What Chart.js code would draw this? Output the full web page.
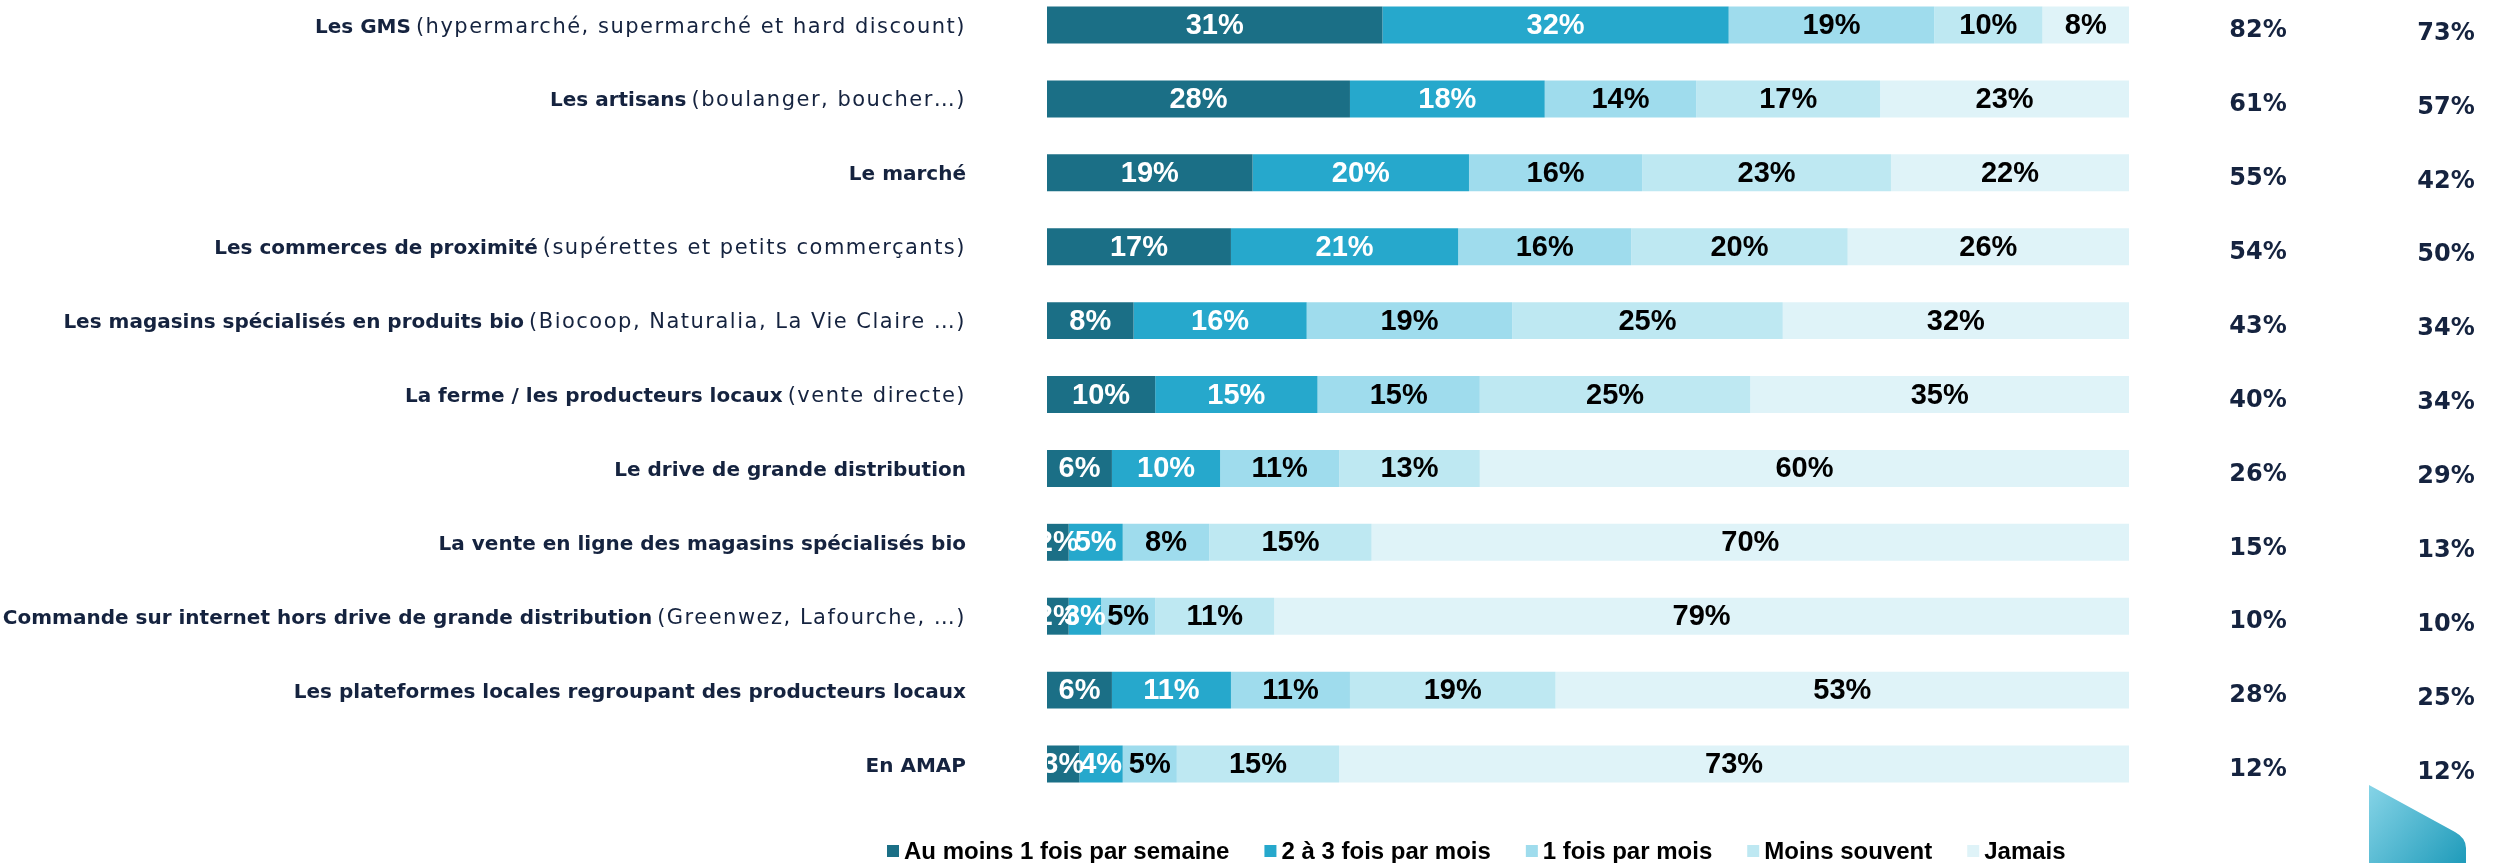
<!DOCTYPE html>
<html>
<head>
<meta charset="utf-8">
<script src="https://cdn.jsdelivr.net/npm/chart.js@4.4.1/dist/chart.umd.min.js"></script>
<style>
  html, body { margin: 0; padding: 0; background: #ffffff; }
  #wrap { width: 2496px; height: 863px; }
</style>
</head>
<body>
<div id="wrap"><canvas id="shopChart" width="2496" height="863"></canvas></div>
<script>
// row labels: bold part + detail in brackets
const mainLabels = [
    'Les GMS',
    'Les artisans',
    'Le marché',
    'Les commerces de proximité',
    'Les magasins spécialisés en produits bio',
    'La ferme / les producteurs locaux',
    'Le drive de grande distribution',
    'La vente en ligne des magasins spécialisés bio',
    'Commande sur internet hors drive de grande distribution',
    'Les plateformes locales regroupant des producteurs locaux',
    'En AMAP'
];
const detailLabels = [
    '(hypermarché, supermarché et hard discount)',
    '(boulanger, boucher…)',
    '',
    '(supérettes et petits commerçants)',
    '(Biocoop, Naturalia, La Vie Claire …)',
    '(vente directe)',
    '',
    '',
    '(Greenwez, Lafourche, …)',
    '',
    ''
];

const seriesNames = ['Au moins 1 fois par semaine', '2 à 3 fois par mois', '1 fois par mois', 'Moins souvent', 'Jamais'];

const weekly    = [31, 28, 19, 17,  8, 10,  6,  2,  2,  6,  3];
const twoThree  = [32, 18, 20, 21, 16, 15, 10,  5,  3, 11,  4];
const monthly   = [19, 14, 16, 16, 19, 15, 11,  8,  5, 11,  5];
const lessOften = [10, 17, 23, 20, 25, 25, 13, 15, 11, 19, 15];
const never     = [ 8, 23, 22, 26, 32, 35, 60, 70, 79, 53, 73];

// the two total columns on the right
const totalA = [82, 61, 55, 54, 43, 40, 26, 15, 10, 28, 12];
const totalB = [73, 57, 42, 50, 34, 34, 29, 13, 10, 25, 12];

const colors = ['#1b6f86', '#26a8cc', '#9fdced', '#bee8f2', '#dff3f8'];
const navy = '#15233f';

const seriesValues = [weekly, twoThree, monthly, lessOften, never];

// percentages inside each segment
const segmentLabels = {
    id: 'segmentLabels',
    afterDatasetsDraw(chart) {
        const ctx = chart.ctx;
        ctx.save();
        ctx.font = 'bold 29px "Liberation Sans", Arial, sans-serif';
        ctx.textAlign = 'center';
        ctx.textBaseline = 'middle';
        chart.data.datasets.forEach((ds, i) => {
            const meta = chart.getDatasetMeta(i);
            meta.data.forEach((bar, j) => {
                const p = bar.getProps(['x', 'y', 'base'], true);
                ctx.fillStyle = i < 2 ? '#ffffff' : '#000000';
                ctx.fillText(ds.data[j] + '%', (p.x + p.base) / 2, p.y + 1);
            });
        });
        ctx.restore();
    }
};

// row names on the left, totals on the right, legend, corner decoration
const sideText = {
    id: 'sideText',
    afterDraw(chart) {
        const ctx = chart.ctx;
        const yScale = chart.scales.y;
        const area = chart.chartArea;
        ctx.save();

        const rightEdge = area.left - 81;
        ctx.fillStyle = navy;
        ctx.textAlign = 'right';
        ctx.textBaseline = 'alphabetic';
        mainLabels.forEach((lab, i) => {
            const base = yScale.getPixelForValue(i) + 7.5;
            let x = rightEdge;
            if (detailLabels[i]) {
                ctx.font = '21px "DejaVu Sans", sans-serif';
                ctx.letterSpacing = '1.5px';
                ctx.fillText(detailLabels[i], x, base);
                x -= ctx.measureText(detailLabels[i]).width + 5;
                ctx.letterSpacing = '0px';
            }
            ctx.font = 'bold 20px "DejaVu Sans", sans-serif';
            ctx.fillText(lab, x, base);
        });

        ctx.font = 'bold 24px "DejaVu Sans", sans-serif';
        ctx.textAlign = 'center';
        ctx.textBaseline = 'middle';
        totalA.forEach((v, i) => {
            const y = yScale.getPixelForValue(i);
            ctx.fillText(v + '%', 2258, y + 6);
            ctx.fillText(totalB[i] + '%', 2446, y + 8.5);
        });

        // legend
        ctx.font = 'bold 24px "Liberation Sans", Arial, sans-serif';
        ctx.textAlign = 'left';
        let lx = 887;
        const ly = 851;
        seriesNames.forEach((name, i) => {
            ctx.fillStyle = colors[i];
            ctx.fillRect(lx, ly - 6, 12, 12);
            ctx.fillStyle = '#000000';
            ctx.fillText(name, lx + 17, ly + 1);
            lx += 17 + ctx.measureText(name).width + 35;
        });

        // corner shape
        const g = ctx.createLinearGradient(2369, 785, 2466, 863);
        g.addColorStop(0, '#86d4e7');
        g.addColorStop(1, '#1f9bba');
        ctx.fillStyle = g;
        ctx.beginPath();
        ctx.moveTo(2369, 785);
        ctx.lineTo(2455, 832);
        ctx.quadraticCurveTo(2466, 838, 2466, 848);
        ctx.lineTo(2466, 863);
        ctx.lineTo(2369, 863);
        ctx.closePath();
        ctx.fill();

        ctx.restore();
    }
};

const ctx = document.getElementById('shopChart').getContext('2d');

new Chart(ctx, {
    type: 'bar',
    data: {
        labels: mainLabels,
        datasets: seriesNames.map((name, i) => ({
            label: name,
            data: seriesValues[i],
            backgroundColor: colors[i],
            borderWidth: 0,
            categoryPercentage: 1,
            barPercentage: 0.5,
            clip: false
        }))
    },
    options: {
        indexAxis: 'y',
        responsive: false,
        animation: false,
        layout: {
            padding: { left: 1047, right: 367, top: 25, bottom: 99 }
        },
        plugins: {
            legend: { display: false },
            tooltip: { enabled: false }
        },
        scales: {
            x: { stacked: true, min: 0, max: 100, display: false },
            y: { stacked: true, offset: false, display: false }
        }
    },
    plugins: [segmentLabels, sideText]
});
</script>
</body>
</html>
